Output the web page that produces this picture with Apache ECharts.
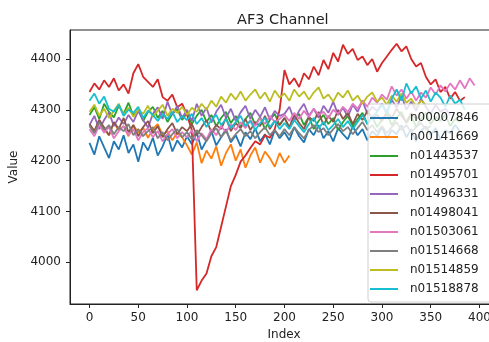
<!DOCTYPE html>
<html>
<head>
<meta charset="utf-8">
<script src="https://cdn.jsdelivr.net/npm/echarts@6/dist/echarts.min.js"></script>
<style>
  html, body { margin: 0; padding: 0; background: #fff; }
  #chart { width: 489px; height: 342px; }
</style>
</head>
<body>
<div id="chart"></div>
<script>
// sample index step (one value every 5 samples)
const indexStep = 5;

const seriesNames = [
  "n00007846", "n00141669", "n01443537", "n01495701", "n01496331",
  "n01498041", "n01503061", "n01514668", "n01514859", "n01518878"
];
const colors = [
  "#1f77b4", "#ff7f0e", "#2ca02c", "#d62728", "#9467bd",
  "#8c564b", "#e377c2", "#7f7f7f", "#bcbd22", "#17becf"
];

const n00007846 = [
  4235, 4212, 4248, 4226, 4205, 4238, 4222, 4250, 4215, 4232, 4198, 4236, 4220, 4245, 4210, 4228, 4252, 4218, 4240, 4226,
  4248, 4232, 4255, 4222, 4240, 4258, 4230, 4246, 4262, 4236, 4250, 4228, 4256, 4242, 4264, 4238, 4252, 4232, 4260, 4244,
  4256, 4240, 4266, 4248, 4236, 4262, 4250, 4270, 4244, 4258, 4238, 4264, 4252, 4242, 4268, 4250, 4262, 4240, 4258, 4248,
  4266, 4244, 4260, 4252, 4270, 4246, 4262, 4238, 4258, 4268, 4250, 4264, 4242, 4260, 4254, 4270, 4258
];
const n00141669 = [
  4272, 4258, 4280, 4262, 4250, 4275, 4260, 4268, 4248, 4270, 4255, 4265, 4245, 4262, 4272, 4250, 4258, 4240, 4255, 4246,
  4230, 4212, 4236, 4195, 4220, 4204, 4228, 4190, 4215, 4232, 4200, 4222, 4186, 4210, 4226, 4196, 4218, 4205, 4188, 4215,
  4196, 4210
];
const n01443537 = [
  4290, 4305, 4282, 4312, 4296, 4285, 4308, 4292, 4314, 4288, 4300, 4278, 4296, 4306, 4284, 4298, 4276, 4292, 4302, 4280,
  4294, 4272, 4288, 4300, 4276, 4290, 4268, 4284, 4296, 4274, 4288, 4266, 4282, 4294, 4270, 4286, 4262, 4280, 4292, 4270,
  4284, 4264, 4280, 4292, 4270, 4286, 4262, 4278, 4290, 4272, 4284, 4260, 4276, 4288, 4268, 4282, 4294, 4272, 4286, 4266,
  4280, 4292, 4270, 4284, 4296, 4274, 4288, 4266, 4282, 4294, 4272, 4286, 4278, 4290, 4268, 4282, 4276
];
const n01495701 = [
  4335, 4352, 4340, 4358, 4345, 4362, 4338, 4350, 4332, 4372, 4390, 4365, 4355, 4345, 4360, 4325, 4318, 4330, 4305, 4312,
  4290, 4260, 3945, 3964, 3978, 4012, 4030, 4070, 4110, 4150, 4172, 4198, 4210, 4225, 4238, 4232, 4250, 4245, 4262, 4300,
  4378, 4350, 4362, 4345, 4372, 4360, 4385, 4368, 4398, 4380, 4412, 4395, 4428, 4410, 4420, 4398, 4405, 4388, 4400, 4375,
  4392, 4405, 4418, 4430, 4415, 4425, 4400, 4385, 4392, 4365, 4350, 4360, 4335, 4345, 4322, 4335, 4318, 4325
];
const n01496331 = [
  4270, 4288, 4262, 4280, 4295, 4268, 4285, 4272, 4290, 4276, 4298, 4280, 4265, 4292, 4305, 4282, 4316, 4290, 4308, 4284,
  4300, 4278, 4312, 4288, 4304, 4275, 4296, 4310, 4284, 4302, 4278, 4295, 4308, 4282, 4300, 4286, 4305, 4280, 4298, 4288,
  4292, 4306, 4280, 4298, 4312, 4288, 4302, 4284, 4308, 4294, 4316, 4290, 4304, 4286, 4310, 4296, 4318, 4292, 4306, 4298,
  4312, 4296, 4320, 4304, 4328, 4300, 4316, 4298, 4322, 4306, 4292, 4310, 4296, 4302, 4290
];
const n01498041 = [
  4272, 4258, 4280, 4265, 4250, 4276, 4262, 4284, 4256, 4270, 4248, 4266, 4278, 4254, 4268, 4246, 4262, 4274, 4252, 4266,
  4258, 4272, 4250, 4266, 4280, 4256, 4270, 4262, 4284, 4258, 4274, 4264, 4282, 4260, 4276, 4268, 4288, 4262, 4278, 4270,
  4284, 4266, 4290, 4274, 4262, 4286, 4278, 4296, 4270, 4288, 4276, 4300, 4282, 4294, 4272, 4292, 4280, 4298, 4284, 4290,
  4278, 4296, 4284, 4302, 4288, 4276, 4294, 4282, 4290
];
const n01503061 = [
  4262, 4248, 4270, 4255, 4266, 4244, 4258, 4268, 4250, 4262, 4240, 4256, 4264, 4246, 4258, 4238, 4252, 4262, 4244, 4256,
  4246, 4260, 4238, 4254, 4242, 4262, 4250, 4268, 4256, 4272, 4260, 4276, 4264, 4280, 4268, 4284, 4272, 4288, 4276, 4282,
  4290, 4278, 4294, 4282, 4298, 4286, 4302, 4290, 4296, 4284, 4300, 4292, 4306, 4296, 4312, 4302, 4318, 4306, 4324, 4314,
  4330, 4320, 4346, 4328, 4340, 4322, 4336, 4318, 4334, 4324, 4344, 4330, 4348, 4336, 4352, 4340, 4358, 4342, 4362, 4348
];
const n01514668 = [
  4268, 4254, 4276, 4260, 4270, 4252, 4266, 4258, 4272, 4250, 4262, 4248, 4258, 4266, 4244, 4256, 4240, 4252, 4262, 4246,
  4256, 4242, 4260, 4250, 4238, 4254, 4264, 4246, 4258, 4240, 4252, 4262, 4248, 4258, 4244, 4256, 4266, 4250, 4260, 4248,
  4262, 4250, 4266, 4254, 4244, 4260, 4270, 4256, 4264, 4250, 4262, 4272, 4258, 4266, 4252, 4264, 4276, 4260, 4270, 4256,
  4268, 4254, 4266, 4276, 4260, 4270, 4256, 4266, 4274, 4262, 4268
];
const n01514859 = [
  4296, 4310, 4288, 4302, 4284, 4298, 4312, 4290, 4304, 4286, 4300, 4292, 4308, 4286, 4298, 4310, 4288, 4302, 4294, 4306,
  4290, 4304, 4296, 4312, 4300, 4318, 4306, 4326, 4314, 4332, 4320, 4336, 4318, 4330, 4340, 4322, 4334, 4316, 4338, 4324,
  4332, 4318, 4340, 4326, 4336, 4320, 4334, 4344, 4322, 4330, 4316, 4334, 4324, 4338, 4318, 4328, 4312, 4326, 4334, 4316,
  4324, 4310, 4328, 4316, 4332, 4314, 4322, 4306, 4318, 4310
];
const n01518878 = [
  4318, 4332, 4312, 4326, 4302, 4296, 4310, 4288, 4300, 4294, 4306, 4284, 4298, 4290, 4278, 4292, 4282, 4296, 4276, 4288,
  4280, 4292, 4272, 4284, 4266, 4280, 4290, 4270, 4282, 4264, 4276, 4288, 4268, 4278, 4260, 4274, 4284, 4266, 4278, 4262,
  4274, 4262, 4280, 4268, 4256, 4272, 4284, 4264, 4276, 4260, 4270, 4282, 4266, 4278, 4262, 4276, 4290, 4272, 4286, 4296,
  4310, 4292, 4322, 4340, 4318, 4352, 4332, 4346, 4322, 4338, 4316, 4334, 4324, 4306, 4328, 4312, 4320, 4300
];

const allValues = [
  n00007846, n00141669, n01443537, n01495701, n01496331,
  n01498041, n01503061, n01514668, n01514859, n01518878
];

const xTicks = [0, 50, 100, 150, 200, 250, 300, 350, 400];
const yTicks = [4000, 4100, 4200, 4300, 4400];

const font = "DejaVu Sans";
const ink = "#222";

const chart = echarts.init(document.getElementById("chart"), null, { renderer: "canvas" });

const series = allValues.map((vals, k) => ({
  name: seriesNames[k],
  type: "line",
  data: vals.map((v, i) => [i * indexStep, v]),
  showSymbol: false,
  symbol: "none",
  color: colors[k],
  lineStyle: { width: 1.8, color: colors[k] },
  emphasis: { disabled: true },
}));

chart.setOption({
  animation: false,
  color: colors,
  title: {
    text: "AF3 Channel",
    left: 232,
    top: 8,
    textStyle: { fontFamily: font, fontSize: 14.5, fontWeight: "normal", color: ink },
  },
  // plot area runs past the right edge of the picture, like the cropped original
  grid: {
    left: 70,
    width: 428,
    top: 30,
    bottom: 38,
    outerBoundsMode: "none",
    containLabel: false,
    show: true,
    borderColor: ink,
    borderWidth: 1,
    backgroundColor: "#fff",
  },
  legend: {
    orient: "vertical",
    left: 368,
    top: 104,
    icon: "rect",
    itemWidth: 28,
    itemHeight: 2,
    itemGap: 5,
    padding: [7, 16, 6, 2],
    backgroundColor: "rgba(255,255,255,0.8)",
    borderColor: "#d0d0d0",
    borderWidth: 1,
    borderRadius: 3,
    textStyle: { fontFamily: font, fontSize: 12, color: ink, lineHeight: 14, padding: [0, 0, 0, 7] },
    data: seriesNames,
  },
  xAxis: {
    type: "value",
    min: -20,
    max: 419,
    name: "Index",
    nameLocation: "middle",
    nameGap: 24,
    nameTextStyle: { fontFamily: font, fontSize: 12, color: ink },
    axisLine: { show: true, onZero: false, lineStyle: { color: ink, width: 1 } },
    axisTick: { show: true, length: 4, customValues: xTicks, lineStyle: { color: ink } },
    axisLabel: { customValues: xTicks, margin: 8, fontFamily: font, fontSize: 12, color: ink },
    splitLine: { show: false },
  },
  yAxis: {
    type: "value",
    min: 3918,
    max: 4457,
    name: "Value",
    nameLocation: "middle",
    nameGap: 48,
    nameTextStyle: { fontFamily: font, fontSize: 12, color: ink },
    axisLine: { show: true, onZero: false, lineStyle: { color: ink, width: 1 } },
    axisTick: { show: true, length: 4, customValues: yTicks, lineStyle: { color: ink } },
    axisLabel: {
      customValues: yTicks, margin: 9, fontFamily: font, fontSize: 12, color: ink,
      formatter: (v) => String(v),
    },
    splitLine: { show: false },
  },
  series: series,
});
</script>
</body>
</html>
